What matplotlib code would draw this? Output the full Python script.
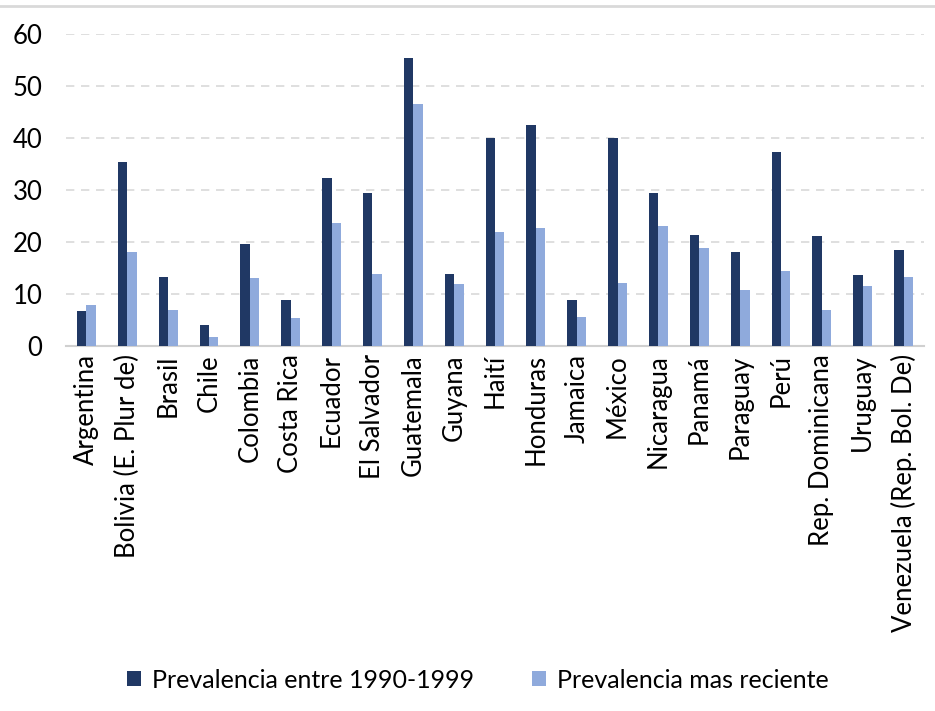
import numpy as np
import matplotlib.pyplot as plt
from matplotlib.lines import Line2D

paises = ["Argentina", "Bolivia (E. Plur de)", "Brasil", "Chile", "Colombia", "Costa Rica",
          "Ecuador", "El Salvador", "Guatemala", "Guyana", "Haití", "Honduras", "Jamaica",
          "México", "Nicaragua", "Panamá", "Paraguay", "Perú", "Rep. Dominicana", "Uruguay",
          "Venezuela (Rep. Bol. De)"]
prev_1990 = [6.8, 35.3, 13.3, 4.1, 19.7, 8.9, 32.4, 29.5, 55.4, 13.9, 40.0,
             42.5, 8.9, 40.0, 29.5, 21.3, 18.1, 37.3, 21.1, 13.7, 18.5]
prev_reciente = [7.9, 18.0, 6.9, 1.7, 13.0, 5.4, 23.7, 13.9, 46.5, 11.9, 21.9,
                 22.6, 5.6, 12.2, 23.0, 18.9, 10.8, 14.5, 6.9, 11.5, 13.3]

plt.rcParams['font.family'] = ['Lato', 'DejaVu Sans']

fig = plt.figure(figsize=(9.35, 7.11), dpi=100)
ax = fig.add_axes([66 / 935, 1 - 346 / 711, 858 / 935, 312 / 711])

x = np.arange(len(paises))
w = 0.23
ax.bar(x - w / 2, prev_1990, w, color="#203864", label="Prevalencia entre 1990-1999", zorder=3)
ax.bar(x + w / 2, prev_reciente, w, color="#8FAADC", label="Prevalencia mas reciente", zorder=3)

ax.set_xlim(-0.5, len(paises) - 0.5)
ax.set_ylim(0, 60)
ax.set_yticks(range(0, 61, 10))
ax.set_xticks(x)
ax.set_xticklabels(paises, rotation=90, fontsize=18.5)
ax.tick_params(axis='y', labelsize=18.5, length=0, pad=17)
ax.tick_params(axis='x', length=0, pad=6)
ax.yaxis.grid(True, color="#d9d9d9", linestyle=(0, (5, 4)), linewidth=1.2, zorder=0)
for s in ["top", "right", "left"]:
    ax.spines[s].set_visible(False)
ax.spines["bottom"].set_color("#d0d0d0")
ax.spines["bottom"].set_linewidth(1.5)

fig.add_artist(Line2D([0, 1], [1 - 6 / 711, 1 - 6 / 711], color="#d9d9d9", linewidth=2))

fig.legend(loc="center", bbox_to_anchor=(478 / 935, 1 - 680 / 711), ncol=2, frameon=False,
           fontsize=18, handlelength=0.55, handleheight=0.55, columnspacing=2.3, handletextpad=0.45)

fig.savefig("out.png", dpi=100)
